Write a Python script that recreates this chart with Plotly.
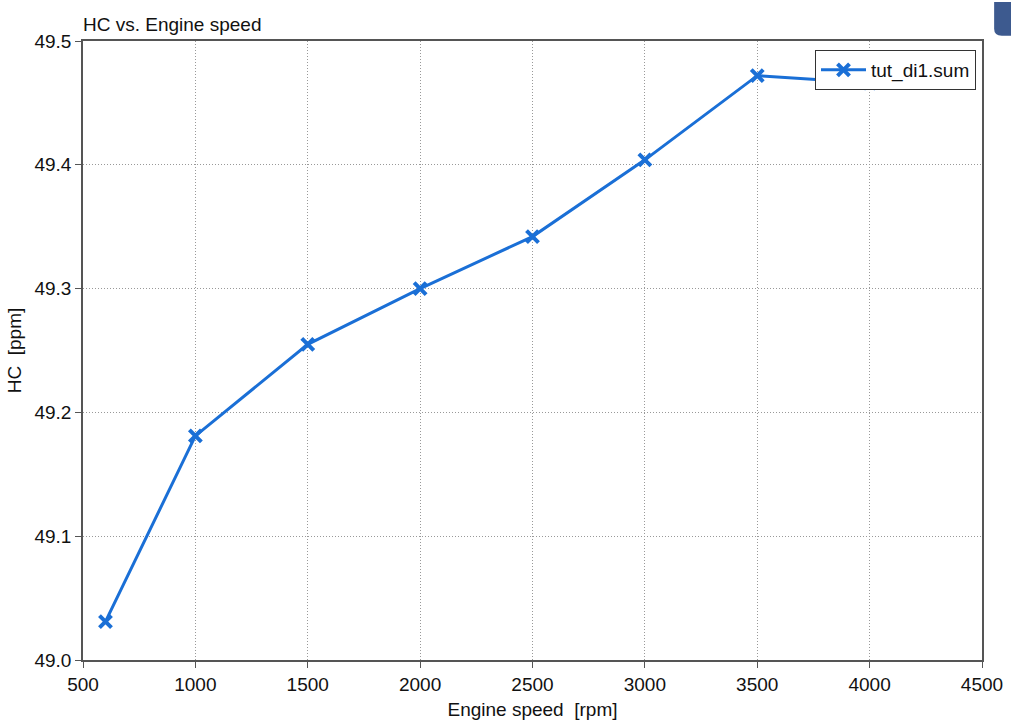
import plotly.graph_objects as go

speed = [600, 1000, 1500, 2000, 2500, 3000, 3500, 4000]
hc = [49.031, 49.181, 49.255, 49.300, 49.342, 49.404, 49.472, 49.466]
x_ticks = [500, 1000, 1500, 2000, 2500, 3000, 3500, 4000, 4500]
y_ticks = [49.0, 49.1, 49.2, 49.3, 49.4, 49.5]

blue = "#1a6fd6"
fs = 19
fig = go.Figure()
fig.add_trace(go.Scatter(
    x=speed, y=hc, mode="lines+markers", name="tut_di1.sum",
    line=dict(color=blue, width=3),
    marker=dict(symbol="x-thin", size=12, line=dict(color=blue, width=4), color=blue),
))

axis_common = dict(
    showline=True, linecolor="#555", linewidth=1.5, mirror=True,
    ticks="outside", ticklen=6, tickcolor="#555",
    showgrid=True, gridcolor="#999", griddash="1px,2px", gridwidth=1,
    zeroline=False, tickfont=dict(size=fs, color="#111"), automargin=False,
)
fig.update_xaxes(range=[500, 4500], tickvals=x_ticks, ticktext=[str(v) for v in x_ticks],
                 title=dict(text="Engine speed  [rpm]", font=dict(size=fs, color="#111"), standoff=10),
                 **axis_common)
fig.update_yaxes(range=[49.0, 49.5], tickvals=y_ticks, ticktext=[f"{v:.1f}" for v in y_ticks],
                 title=dict(text="HC  [ppm]", font=dict(size=fs, color="#111"), standoff=8),
                 **axis_common)

fig.update_layout(
    width=1011, height=720,
    margin=dict(l=83, r=29, t=41, b=60, autoexpand=False),
    paper_bgcolor="white", plot_bgcolor="white",
    font=dict(family="Liberation Sans, Arial, sans-serif", color="#111"),
    title=dict(text="HC vs. Engine speed", x=83/1011, xanchor="left", y=1-24/720, yanchor="middle",
               font=dict(size=fs, color="#111")),
    showlegend=True,
    legend=dict(x=(976-83)/899, y=(660-50)/619, xanchor="right", yanchor="top",
                bgcolor="white", bordercolor="#333", borderwidth=1, itemwidth=45,
                font=dict(size=fs, color="#111")),
    shapes=[dict(type="path", xref="paper", yref="paper",
                 path="M 1.0135,1.0632 L 1.0135,1.0197 Q 1.0135,1.0086 1.022,1.0086 L 1.04,1.0086 L 1.04,1.0632 Z",
                 fillcolor="#3d5a8f", line=dict(width=0))],
)

fig.write_html("out.html")
